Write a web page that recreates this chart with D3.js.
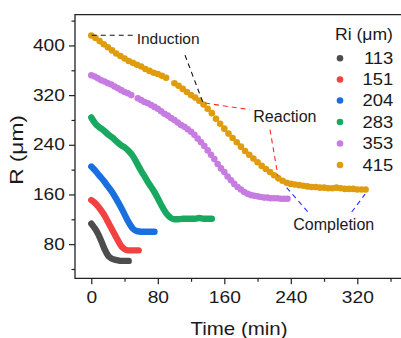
<!DOCTYPE html>
<html><head><meta charset="utf-8">
<script src="https://cdn.jsdelivr.net/npm/d3@7"></script>
<style>
html,body{margin:0;padding:0;background:#fff;}
svg text{font-family:"Liberation Sans",Arial,sans-serif;fill:#1a1a1a;}
</style></head>
<body><svg id="c" width="401" height="338"></svg>
<script>
// ---- data ----
const seriesNames = ["113","151","204","283","353","415"];
const seriesColors = ["#4d4d4d","#f24141","#1a6fdf","#19a860","#c67ce0","#df9c0e"];
const s113 = [[0,113],[4,106],[8,97],[12,85],[16,72],[20,62],[24,57],[28,55],[32,54],[36,53],[40,53],[45,53]];
const s151 = [[0,151],[4,147],[8,141],[12,134],[16,126],[20,116],[24,106],[28,96],[32,86],[36,77],[40,72],[44,70],[48,70],[52,70],[57,70]];
const s204 = [[0,205],[5,198],[10,190],[15,182],[20,173],[25,164],[30,153],[35,141],[40,128],[45,115],[50,105],[55,101],[60,100],[65,100],[70,100],[76,100]];
const s283 = [[0,284],[5,274],[10,268],[15,263],[20,257],[25,252],[30,246],[35,240],[40,236],[45,230],[50,222],[55,210],[60,198],[65,187],[70,176],[75,166],[80,154],[85,141],[90,130],[95,123],[100,120],[105,120],[110,121],[115,121],[120,121],[125,121],[130,122],[135,121],[140,121],[145,121]];
const s353 = [[0,352],[4,350],[8,347],[12,344],[16,342],[20,339],[24,337],[28,334],[32,331],[36,328],[40,325],[44,323],[48,320],[56,315],[60,312],[64,309],[68,307],[72,304],[76,301],[80,298],[84,294],[88,290],[92,287],[96,283],[100,280],[104,276],[108,272],[112,269],[116,265],[120,261],[124,256],[128,250],[132,244],[136,238],[140,231],[144,224],[148,217],[152,209],[156,202],[160,196],[164,189],[168,183],[172,177],[176,172],[180,168],[184,164],[188,161],[192,159],[196,158],[200,157],[204,156],[208,155],[212,155],[216,154],[220,154],[224,154],[228,153],[232,153],[236,153]];
const s415 = [[0,416],[5,412],[10,407],[15,402],[20,397],[25,392],[30,387],[35,383],[40,379],[45,375],[50,372],[55,369],[60,366],[65,362],[70,359],[75,356],[80,354],[85,351],[90,348],[100,339],[105,335],[110,330],[115,325],[120,320],[125,316],[130,311],[135,305],[140,298],[145,291],[150,282],[155,274],[160,266],[165,258],[170,251],[175,244],[180,237],[185,230],[190,224],[195,218],[200,212],[205,206],[210,201],[215,196],[220,191],[225,186],[230,182],[235,179],[240,177],[245,176],[250,175],[255,174],[260,173],[265,172],[270,172],[275,171],[280,171],[285,170],[290,170],[295,171],[300,170],[305,169],[310,169],[315,169],[320,168],[325,168],[330,168]];
const xMajor = [0,80,160,240,320];
const xMinor = [40,120,200,280,360];
const yMajor = [80,160,240,320,400];
const yMinor = [40,120,200,280,360,440];
// annotations (data coordinates)
const inductionLines = [[[0.5,416.5],[52.6,416.5]],[[112.7,384.5],[134.4,307.7]]];
const reactionLines = [[[136.8,307.2],[190.9,296.5]],[[215,264.5],[224.6,189.3]]];
const completionLines = [[[235,171.2],[261,131.2]],[[313.3,131.7],[329.3,160.5]]];
const labels = [{text:"Induction",t:54.6,r:402,size:15.5},{text:"Reaction",t:194.9,r:276.2,size:16},{text:"Completion",t:243,r:103,size:16}];

// ---- chart ----
const svg = d3.select("#c");
const L=75, R=410, T=14.6, B=278.3;
const x = d3.scaleLinear().domain([-20,380]).range([91.3-20*0.83125, 91.3+380*0.83125]);
const y = d3.scaleLinear().domain([25,450]).range([B, 14.4]);

// axes
const gx = svg.append("g").attr("transform",`translate(0,${B})`);
gx.call(d3.axisBottom(x).tickValues(xMajor).tickSize(6).tickPadding(7.5).tickFormat(d3.format("d")));
const gxm = svg.append("g").attr("transform",`translate(0,${B})`);
gxm.call(d3.axisBottom(x).tickValues(xMinor).tickSize(3.5).tickFormat(""));
const gy = svg.append("g").attr("transform",`translate(${L},0)`);
gy.call(d3.axisLeft(y).tickValues(yMajor).tickSize(6).tickPadding(4).tickFormat(d3.format("d")));
const gym = svg.append("g").attr("transform",`translate(${L},0)`);
gym.call(d3.axisLeft(y).tickValues(yMinor).tickSize(3.5).tickFormat(""));
[gx,gxm,gy,gym].forEach(g=>{g.selectAll(".domain").remove();g.selectAll("line").attr("stroke","#222").attr("stroke-width",1.2);});
gx.selectAll("text").attr("font-size",16).attr("fill","#1a1a1a").attr("font-family","Liberation Sans, Arial").attr("transform","scale(1.2,1)");
gy.selectAll("text").attr("font-size",16).attr("fill","#1a1a1a").attr("font-family","Liberation Sans, Arial").attr("x",-8.4).attr("transform","scale(1.2,1)");

// frame
svg.append("path").attr("d",`M${L},${B}H${R}V${T}H${L}Z`).attr("fill","none").attr("stroke","#222").attr("stroke-width",1.3);

// series
const lineSeries = [s113,s151,s204,s283];
const line = d3.line().x(d=>x(d[0])).y(d=>y(d[1])).curve(d3.curveMonotoneX);
lineSeries.forEach((s,i)=>{
  svg.append("path").datum(s).attr("d",line).attr("fill","none")
    .attr("stroke",seriesColors[i]).attr("stroke-width",6.4)
    .attr("stroke-linecap","round").attr("stroke-linejoin","round");
});
[s353,s415].forEach((s,k)=>{
  const i=4+k;
  svg.append("g").selectAll("circle").data(s).join("circle")
    .attr("cx",d=>x(d[0])).attr("cy",d=>y(d[1])).attr("r",3.3).attr("fill",seriesColors[i]);
});

// annotation lines
function dashLines(arr,color){
  arr.forEach(seg=>{
    svg.append("line").attr("x1",x(seg[0][0])).attr("y1",y(seg[0][1]))
      .attr("x2",x(seg[1][0])).attr("y2",y(seg[1][1]))
      .attr("stroke",color).attr("stroke-width",1.1).attr("stroke-dasharray","5,4");
  });
}
dashLines(inductionLines,"#111");
dashLines(reactionLines,"#ff2a2a");
dashLines(completionLines,"#2a2aff");
labels.forEach(l=>{
  svg.append("text").attr("x",x(l.t)).attr("y",y(l.r)).attr("font-size",l.size).text(l.text);
});

// axis titles
svg.append("text").attr("transform","translate(239,335) scale(1.1,1)").attr("text-anchor","middle")
  .attr("font-size",18.6).text("Time (min)");
svg.append("text").attr("transform","translate(23,150) rotate(-90) scale(1.22,1)").attr("text-anchor","middle")
  .attr("font-size",18.6).text("R (μm)");

// legend
svg.append("text").attr("transform","translate(335,39.5) scale(1.1,1)").attr("font-size",16).text("Ri (μm)");
const legY = [58.3,79.5,100.5,122,143.5,165];
seriesNames.forEach((n,i)=>{
  svg.append("circle").attr("cx",340).attr("cy",legY[i]).attr("r",3.3).attr("fill",seriesColors[i]);
  svg.append("text").attr("transform",`translate(393.3,${legY[i]+5.7}) scale(1.15,1)`).attr("text-anchor","end")
    .attr("font-size",16).text(n);
});
</script></body></html>
